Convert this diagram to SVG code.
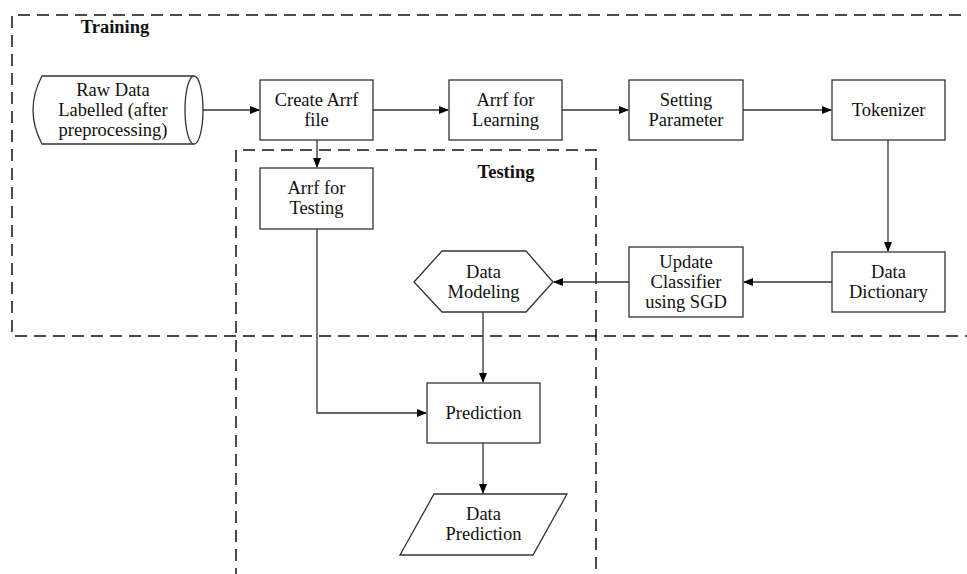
<svg xmlns="http://www.w3.org/2000/svg" width="967" height="574" viewBox="0 0 967 574">
<defs>
<marker id="arr" markerWidth="10" markerHeight="8" refX="9" refY="4" orient="auto" markerUnits="userSpaceOnUse">
<path d="M0,0 L10,4 L0,8 Z" fill="#000"/>
</marker>
<style>
.n{fill:#fff;stroke:#333;stroke-width:1.3}
.t{font-family:"Liberation Serif","Times New Roman",serif;font-size:18.5px;fill:#111;text-anchor:middle}
.b{font-weight:bold}
.c{fill:none;stroke:#333;stroke-width:1.3}
.d{fill:none;stroke:#111;stroke-width:1.5;stroke-dasharray:12 7}
</style>
</defs>
<rect width="967" height="574" fill="#fff"/>
<g id="regions">
<path class="d" d="M980,15 H12 V336 H980"/>
<path class="d" d="M236,580 V150 H596 V580"/>
<text class="t b" x="115" y="33">Training</text>
<text class="t b" x="506" y="178">Testing</text>
</g>
<g id="connectors">
<path class="c" d="M194,110 H259" marker-end="url(#arr)"/>
<path class="c" d="M373,110 H448" marker-end="url(#arr)"/>
<path class="c" d="M562,110 H628" marker-end="url(#arr)"/>
<path class="c" d="M743,110 H831" marker-end="url(#arr)"/>
<path class="c" d="M888,140 V251" marker-end="url(#arr)"/>
<path class="c" d="M832,282 H744" marker-end="url(#arr)"/>
<path class="c" d="M629,282 H554" marker-end="url(#arr)"/>
<path class="c" d="M317,140 V167" marker-end="url(#arr)"/>
<path class="c" d="M317,229 V413 H426" marker-end="url(#arr)"/>
<path class="c" d="M483,312 V382" marker-end="url(#arr)"/>
<path class="c" d="M483,443 V493" marker-end="url(#arr)"/>
</g>
<g id="raw-data">
<path class="n" d="M42,76 H194 A9,34 0 0 1 194,144 H42 Q24,110 42,76 Z"/>
<path class="n" d="M194,76 A9,34 0 0 0 194,144"/>
<text class="t" x="113" y="96">Raw Data</text>
<text class="t" x="113" y="116">Labelled (after</text>
<text class="t" x="113" y="136">preprocessing)</text>
</g>
<g id="create-arrf">
<rect class="n" x="260" y="80" width="113" height="60"/>
<text class="t" x="316.5" y="106">Create Arrf</text>
<text class="t" x="316.5" y="126">file</text>
</g>
<g id="arrf-learning">
<rect class="n" x="449" y="80" width="113" height="60"/>
<text class="t" x="505.5" y="106">Arrf for</text>
<text class="t" x="505.5" y="126">Learning</text>
</g>
<g id="setting-parameter">
<rect class="n" x="629" y="80" width="114" height="60"/>
<text class="t" x="686" y="106">Setting</text>
<text class="t" x="686" y="126">Parameter</text>
</g>
<g id="tokenizer">
<rect class="n" x="832" y="80" width="113" height="60"/>
<text class="t" x="888.5" y="116">Tokenizer</text>
</g>
<g id="data-dictionary">
<rect class="n" x="832" y="252" width="113" height="60"/>
<text class="t" x="888.5" y="278">Data</text>
<text class="t" x="888.5" y="298">Dictionary</text>
</g>
<g id="update-classifier">
<rect class="n" x="629" y="247" width="114" height="70"/>
<text class="t" x="686" y="268">Update</text>
<text class="t" x="686" y="288">Classifier</text>
<text class="t" x="686" y="308">using SGD</text>
</g>
<g id="data-modeling">
<path class="n" d="M414,282 L442,251 H526 L553,282 L526,312 H442 Z"/>
<text class="t" x="483.5" y="278">Data</text>
<text class="t" x="483.5" y="298">Modeling</text>
</g>
<g id="arrf-testing">
<rect class="n" x="260" y="168" width="113" height="61"/>
<text class="t" x="316.5" y="194">Arrf for</text>
<text class="t" x="316.5" y="214">Testing</text>
</g>
<g id="prediction">
<rect class="n" x="427" y="383" width="113" height="60"/>
<text class="t" x="483.5" y="419">Prediction</text>
</g>
<g id="data-prediction">
<path class="n" d="M434,494 H567 L533,555 H400 Z"/>
<text class="t" x="483.5" y="520">Data</text>
<text class="t" x="483.5" y="540">Prediction</text>
</g>
</svg>
